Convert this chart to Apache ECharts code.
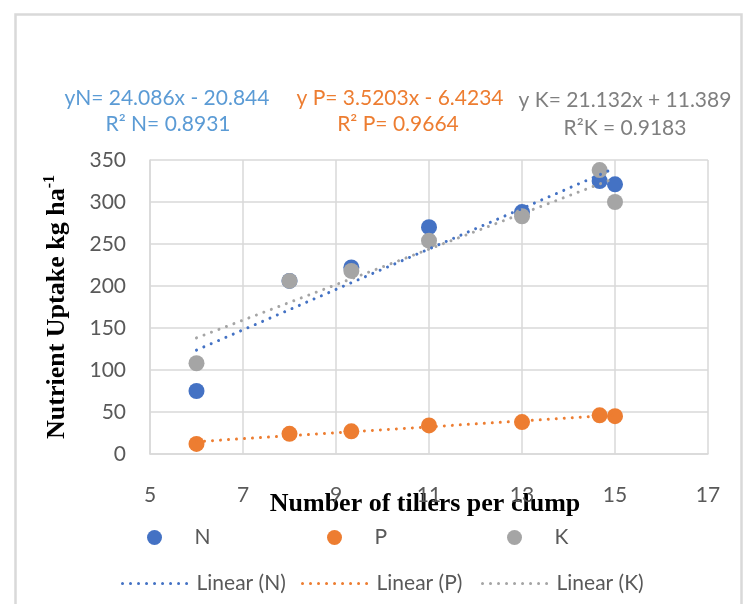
<!DOCTYPE html>
<html>
<head>
<meta charset="utf-8">
<script src="https://cdn.jsdelivr.net/npm/echarts@6/dist/echarts.min.js"></script>
<style>
html,body{margin:0;padding:0;background:#fff;}
#chart{width:744px;height:604px;}
</style>
</head>
<body>
<div id="chart"></div>
<script>
// ---- data ----
const tillers = [6, 8, 9.33, 11, 13, 14.67, 15];
const nUptake = [75, 206, 222, 270, 288, 325, 321];
const pUptake = [12, 24, 27, 34, 38, 46, 45];
const kUptake = [108, 206, 218, 254, 283, 338, 300];

// trend line end points (x = 6 and x = 15)
const trendX = [6, 15];
const trendN = [123.7, 340.4];
const trendP = [14.7, 46.4];
const trendK = [138.2, 328.4];

const seriesNames = ['N', 'P', 'K'];
const trendNames = ['Linear (N)', 'Linear (P)', 'Linear (K)'];
const equations = ['yN= 24.086x - 20.844', 'y P= 3.5203x - 6.4234', 'y K= 21.132x + 11.389'];
const r2Labels = ['R² N= 0.8931', 'R² P= 0.9664', 'R²K = 0.9183'];

const xAxisTitle = 'Number of tillers per clump';
const yAxisTitle = 'Nutrient Uptake kg ha';
const yAxisTitleSup = '-1';

// ---- styling ----
const colors = ['#4472C4', '#ED7D31', '#A5A5A5'];
const eqColors = ['#5B9BD5', '#ED7D31', '#7F7F7F'];
const labelFont = 'Lato, "Open Sans", sans-serif';
const serif = '"Liberation Serif", "Times New Roman", serif';
const gridLine = '#D9D9D9';
const dotted = [0.01, 8];

function pairs(xs, ys) { return xs.map((x, i) => [x, ys[i]]); }

const chart = echarts.init(document.getElementById('chart'), null, {renderer: 'canvas'});

const scatterData = [nUptake, pUptake, kUptake];
const trendData = [trendN, trendP, trendK];

const series = [];
seriesNames.forEach((name, i) => {
  series.push({
    name: name,
    type: 'scatter',
    data: pairs(tillers, scatterData[i]),
    symbol: 'circle',
    symbolSize: 16,
    itemStyle: {color: colors[i], opacity: 1},
    z: 2
  });
});
trendNames.forEach((name, i) => {
  series.push({
    name: name,
    type: 'line',
    data: pairs(trendX, trendData[i]),
    symbol: 'none',
    showSymbol: false,
    lineStyle: {color: colors[i], width: 3, type: dotted, cap: 'round'},
    itemStyle: {color: colors[i]},
    z: 3,
    silent: true
  });
});

const legendCols = [116, 296, 476];
const legends = [];
seriesNames.forEach((name, i) => {
  legends.push({
    data: [name], left: legendCols[i] + 26, top: 522,
    itemWidth: 66, itemHeight: 15, selectedMode: false,
    textStyle: {fontFamily: labelFont, fontSize: 21, color: '#595959', padding: [0, 0, 0, 2]}
  });
});
trendNames.forEach((name, i) => {
  legends.push({
    data: [name], left: legendCols[i], top: 568,
    itemWidth: 66, itemHeight: 15, selectedMode: false,
    itemStyle: {opacity: 0},
    lineStyle: {width: 3, type: dotted, cap: 'round', color: colors[i], opacity: 1},
    textStyle: {fontFamily: labelFont, fontSize: 21, color: '#595959', padding: [0, 0, 0, 3]}
  });
});

const eqPos = [[167, 98], [400, 98], [625, 100]];
const r2Pos = [[168, 124], [398, 124], [625, 128]];
const graphics = [{
  type: 'rect', left: 13, top: 12, silent: true,
  shape: {x: 0, y: 0, width: 726, height: 620},
  style: {fill: 'none', stroke: '#D9D9D9', lineWidth: 2.5}
}];
equations.forEach((t, i) => {
  graphics.push({type: 'text', x: eqPos[i][0], y: eqPos[i][1], silent: true,
    style: {text: t, fill: eqColors[i], fontFamily: labelFont, fontSize: 21, align: 'center', verticalAlign: 'middle'}});
  graphics.push({type: 'text', x: r2Pos[i][0], y: r2Pos[i][1], silent: true,
    style: {text: r2Labels[i], fill: eqColors[i], fontFamily: labelFont, fontSize: 21, align: 'center', verticalAlign: 'middle'}});
});

chart.setOption({
  animation: false,
  backgroundColor: '#fff',
  grid: {left: 150, right: 36, top: 160, bottom: 150, containLabel: false},
  xAxis: {
    type: 'value', min: 5, max: 17, interval: 2,
    name: xAxisTitle, nameLocation: 'middle', nameGap: 37, nameMoveOverlap: false,
    nameTextStyle: {fontFamily: serif, fontWeight: 'bold', fontSize: 26, color: '#000', padding: [0, 8, 0, 0]},
    axisLine: {show: true, lineStyle: {color: gridLine, width: 1.5}},
    axisTick: {show: false},
    axisLabel: {margin: 31, fontFamily: labelFont, fontSize: 21, color: '#595959'},
    splitLine: {show: true, lineStyle: {color: gridLine, width: 1.5}}
  },
  yAxis: {
    type: 'value', min: 0, max: 350, interval: 50,
    name: '{t|' + yAxisTitle + '}{s|' + yAxisTitleSup + '}',
    nameLocation: 'middle', nameRotate: 90, nameGap: 78, nameMoveOverlap: false,
    nameTextStyle: {
      rich: {
        t: {fontFamily: serif, fontWeight: 'bold', fontSize: 26, color: '#000', lineHeight: 30},
        s: {fontFamily: serif, fontWeight: 'bold', fontSize: 16, color: '#000', verticalAlign: 'top', lineHeight: 30}
      }
    },
    axisLine: {show: true, lineStyle: {color: gridLine, width: 1.5}},
    axisTick: {show: false},
    axisLabel: {margin: 24, fontFamily: labelFont, fontSize: 21, color: '#595959'},
    splitLine: {show: true, lineStyle: {color: gridLine, width: 1.5}}
  },
  legend: legends,
  graphic: graphics,
  series: series
});
</script>
</body>
</html>
